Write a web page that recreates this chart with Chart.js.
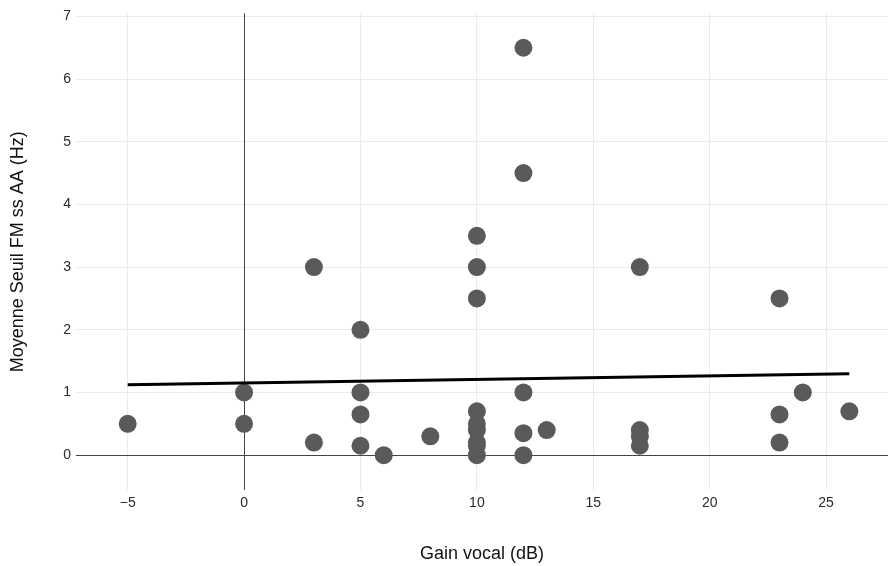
<!DOCTYPE html>
<html>
<head>
<meta charset="utf-8">
<script src="https://cdn.jsdelivr.net/npm/chart.js@4"></script>
<style>
  html, body { margin: 0; padding: 0; background: #fff; }
  #wrap { width: 888px; height: 566px; }
</style>
</head>
<body>
<div id="wrap"><canvas id="myChart" width="888" height="566"></canvas></div>
<script>
// gain vocal (dB) / seuil FM moyen (Hz), one entry per participant
const gainVocal = [-5, 0, 0, 3, 3, 5, 5, 5, 5, 6, 8,
                   10, 10, 10, 10, 10, 10, 10, 10, 10,
                   12, 12, 12, 12, 12, 13, 17, 17, 17, 17,
                   23, 23, 23, 24, 26];
const seuilFM = [0.5, 1.0, 0.5, 3.0, 0.2, 2.0, 1.0, 0.65, 0.15, 0, 0.3,
                 3.5, 3.0, 2.5, 0.7, 0.5, 0.4, 0.2, 0.15, 0,
                 6.5, 4.5, 1.0, 0.35, 0, 0.4, 3.0, 0.4, 0.3, 0.15,
                 2.5, 0.65, 0.2, 1.0, 0.7];

// droite de tendance
const trendX = [-5, 26];
const trendY = [1.125, 1.30];

const xTicks = [-5, 0, 5, 10, 15, 20, 25];
const yTicks = [0, 1, 2, 3, 4, 5, 6, 7];

const font = 'Liberation Sans, Arial, Helvetica, sans-serif';

const points = gainVocal.map((x, i) => ({ x: x, y: seuilFM[i] }));
const trend = trendX.map((x, i) => ({ x: x, y: trendY[i] }));

// axes x=0 / y=0 drawn over the light grid, under the points
const zeroLines = {
    id: 'zeroLines',
    beforeDatasetsDraw(chart) {
        const { ctx, chartArea: a, scales: { x, y } } = chart;
        const px = Math.round(x.getPixelForValue(0)) + 0.5;
        const py = Math.round(y.getPixelForValue(0)) + 0.5;
        ctx.save();
        ctx.strokeStyle = '#444444';
        ctx.lineWidth = 1;
        ctx.beginPath();
        ctx.moveTo(px, a.top);
        ctx.lineTo(px, a.bottom);
        ctx.moveTo(a.left, py);
        ctx.lineTo(a.right, py);
        ctx.stroke();
        ctx.restore();
    }
};

new Chart(document.getElementById('myChart'), {
    type: 'scatter',
    data: {
        datasets: [{
            data: points,
            backgroundColor: '#5a5a5a',
            borderWidth: 0,
            pointRadius: 9,
            pointHoverRadius: 9,
            order: 2
        }, {
            type: 'line',
            data: trend,
            borderColor: '#000000',
            borderWidth: 3,
            pointRadius: 0,
            fill: false,
            order: 1
        }]
    },
    options: {
        responsive: false,
        animation: false,
        layout: { autoPadding: false, padding: { top: 11, right: 0, left: 0, bottom: 0 } },
        plugins: {
            legend: { display: false },
            tooltip: { enabled: false }
        },
        scales: {
            x: {
                type: 'linear',
                min: -7.22,
                max: 27.66,
                afterFit: s => { s.height = 76; },
                afterBuildTicks: s => { s.ticks = xTicks.map(v => ({ value: v })); },
                grid: { color: '#ebebeb', lineWidth: 1, drawTicks: false },
                border: { display: false },
                ticks: {
                    padding: 5,
                    color: '#2a2a2a',
                    font: { family: font, size: 14 },
                    callback: v => v < 0 ? '\u2212' + Math.abs(v) : String(v)
                },
                title: {
                    display: true,
                    text: 'Gain vocal (dB)',
                    color: '#111',
                    font: { family: font, size: 18 },
                    padding: { top: 0, bottom: 1 }
                }
            },
            y: {
                min: -0.556,
                max: 7.048,
                afterFit: s => { s.width = 76; },
                afterBuildTicks: s => { s.ticks = yTicks.map(v => ({ value: v })); },
                grid: { color: '#ebebeb', lineWidth: 1, drawTicks: false },
                border: { display: false },
                ticks: {
                    padding: 5,
                    color: '#2a2a2a',
                    font: { family: font, size: 14 }
                },
                title: {
                    display: true,
                    text: 'Moyenne Seuil FM ss AA (Hz)',
                    color: '#111',
                    font: { family: font, size: 18 },
                    padding: { top: 7, bottom: 0 }
                }
            }
        }
    },
    plugins: [zeroLines]
});
</script>
</body>
</html>
